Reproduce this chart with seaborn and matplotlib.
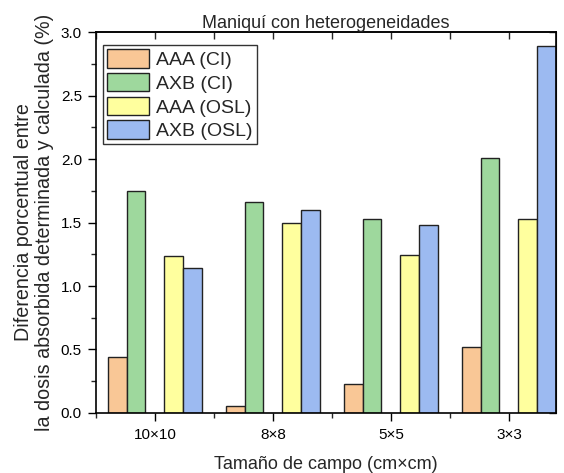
import pandas as pd
import seaborn as sns
import matplotlib.pyplot as plt
from matplotlib.patches import Patch
from matplotlib.ticker import MultipleLocator

# values
campos = ['10×10', '8×8', '5×5', '3×3']
aaa_ci = [0.44, 0.055, 0.225, 0.52]
axb_ci = [1.75, 1.66, 1.525, 2.005]
aaa_osl = [1.235, 1.50, 1.245, 1.53]
axb_osl = [1.14, 1.595, 1.48, 2.89]

series = ['AAA (CI)', 'AXB (CI)', 'AAA (OSL)', 'AXB (OSL)']
colores = ['#F9C796', '#9ED89D', '#FFFF9E', '#9CBAF1']

rows = []
for name, vals in zip(series, [aaa_ci, axb_ci, aaa_osl, axb_osl]):
    for c, v in zip(campos, vals):
        rows.append({'campo': c, 'serie': name, 'valor': v})
df = pd.DataFrame(rows)

# empty slot in the middle of every group, as in the original
orden = ['AAA (CI)', 'AXB (CI)', '_hueco', 'AAA (OSL)', 'AXB (OSL)']
paleta = dict(zip(series, colores))
paleta['_hueco'] = '#ffffff'

sns.set_style('ticks')
plt.rcParams['font.family'] = ['Liberation Sans', 'DejaVu Sans']

fig = plt.figure(figsize=(5.64, 4.73), dpi=100)
ax = fig.add_axes([0.170, 0.127, 0.816, 0.805])

sns.barplot(data=df, x='campo', y='valor', hue='serie', order=campos,
            hue_order=orden, palette=paleta, width=0.8, errorbar=None,
            saturation=1, edgecolor='#222222', linewidth=1.0, legend=False, ax=ax)

ax.set_xlim(-0.5, 3.4)
ax.set_ylim(0, 3.0)
ax.yaxis.set_major_locator(MultipleLocator(0.5))
ax.yaxis.set_minor_locator(MultipleLocator(0.25))
ax.xaxis.set_minor_locator(MultipleLocator(0.5))
ax.yaxis.set_major_formatter(plt.FormatStrFormatter('%.1f'))

for s in ax.spines.values():
    s.set_visible(True)
    s.set_color('black')
    s.set_linewidth(1.2)

ax.tick_params(axis='both', which='major', direction='out', length=6,
               width=1, labelsize=11, colors='black', pad=4)
ax.tick_params(axis='x', which='major', pad=5)
ax.tick_params(axis='both', which='minor', direction='out', length=3.5, width=1)
ax.tick_params(top=False, right=False, which='both')

# mirrored ticks on top/right point inwards
sec_x = ax.secondary_xaxis('top')
sec_x.set_xticks([0, 1, 2, 3])
sec_x.xaxis.set_minor_locator(MultipleLocator(0.5))
sec_x.tick_params(which='major', direction='in', length=5, width=1, labeltop=False)
sec_x.tick_params(which='minor', direction='in', length=5, width=1)
sec_x.spines['top'].set_linewidth(1.2)
sec_y = ax.secondary_yaxis('right')
sec_y.set_yticks([0, 0.5, 1, 1.5, 2, 2.5, 3])
sec_y.tick_params(direction='in', length=5, width=1, labelright=False)

ax.set_xlabel('Tamaño de campo (cm×cm)', fontsize=13, labelpad=10)
ax.set_ylabel('Diferencia porcentual entre\nla dosis absorbida determinada y calculada (%)',
              fontsize=14.2, labelpad=5, linespacing=1.1)
ax.set_title('Maniquí con heterogeneidades', fontsize=13, pad=3)

handles = [Patch(facecolor=c, edgecolor='#222222', linewidth=1.0) for c in colores]
leg = ax.legend(handles, series, loc='upper left', bbox_to_anchor=(0.015, 0.966),
                fontsize=14, frameon=True, fancybox=False, shadow=False,
                edgecolor='black', handlelength=2.2, handleheight=1.1,
                handletextpad=0.35, labelspacing=0.2, borderpad=0.2,
                borderaxespad=0)
leg.get_frame().set_linewidth(1.0)

fig.savefig('out.png', dpi=100)
